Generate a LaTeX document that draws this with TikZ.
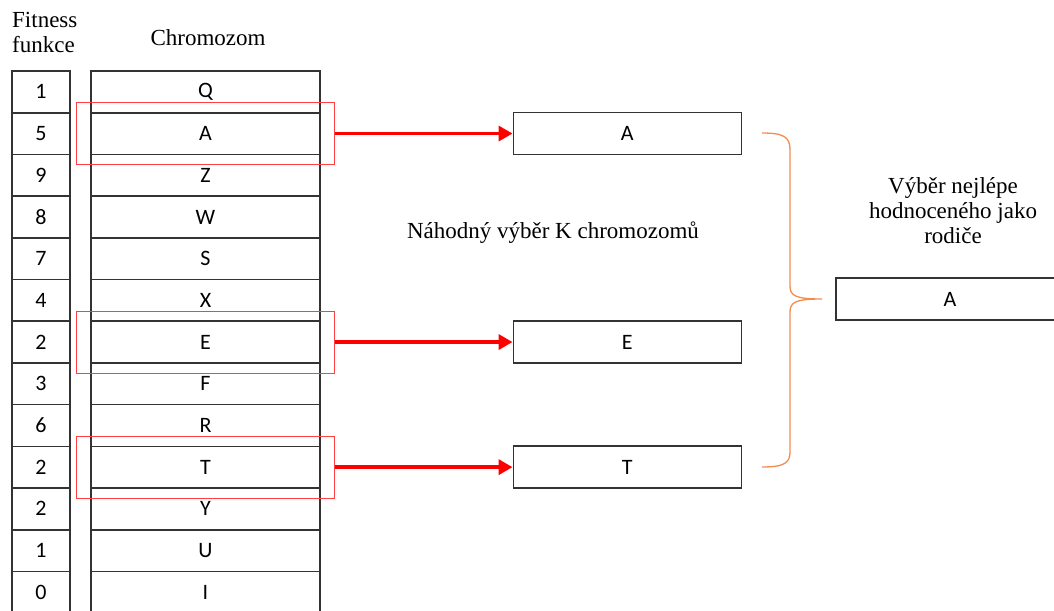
\documentclass[tikz,border=0pt]{standalone}
\usepackage{fontspec}
\setmainfont{Liberation Serif}
\newfontfamily\cellfont{Carlito}
\usetikzlibrary{arrows.meta,positioning}

\definecolor{braceorange}{RGB}{242,140,80}

\tikzset{
    cell/.style={draw=black!80, line width=1.6pt, inner sep=0pt,
        minimum height=41.7pt, font=\cellfont\fontsize{22}{22}\selectfont},
    fitcell/.style={cell, minimum width=58pt},
    chromcell/.style={cell, minimum width=229pt},
    selbox/.style={cell, minimum width=228pt, minimum height=42pt},
    pickbox/.style={draw=red!75, line width=1.1pt, inner sep=0pt,
        minimum width=258pt, minimum height=62pt},
    pickarrow/.style={red, line width=3.5pt, -{Triangle[length=14pt,width=15pt]}},
    heading/.style={font=\fontsize{23}{25}\selectfont, align=center, inner sep=0pt},
    selbrace/.style={draw=braceorange, line width=1.3pt}
}

\begin{document}
\begin{tikzpicture}[x=1pt,y=-1pt]
    \useasboundingbox (0,0) rectangle (1054,610);

    % column headings
    \node[heading, align=left, anchor=north west] (fithead) at (12,12) {Fitness\\funkce};
    \node[heading] (chromhead) at (208,38) {Chromozom};

    % population: fitness value and chromosome, one row each
    \foreach \fit/\gene [count=\i from 0] in {1/Q,5/A,9/Z,8/W,7/S,4/X,2/E,3/F,6/R,2/T,2/Y,1/U,0/I}{
        \node[fitcell] (f\i) at (41,91.85+41.7*\i) {\fit};
        \node[chromcell] (c\i) at (205.5,91.85+41.7*\i) {\gene};
    }

    % randomly picked rows go to the tournament
    \foreach \r/\gene in {1/A,6/E,9/T}{
        \node[pickbox] (p\r) at (c\r) {};
        \node[selbox, right=177.5pt of p\r] (s\r) {\gene};
        \draw[pickarrow] (p\r) -- (s\r);
    }
    \node[heading] (randtext) at (553,233) {Náhodný výběr K chromozomů};

    % the best one becomes the parent
    \node[selbox] (best) at (950,299) {A};
    \node[heading] (besttext) at (953,211) {Výběr nejlépe\\hodnoceného jako\\rodiče};

    \draw[selbrace] (762,133) .. controls (784,133) and (790,137) .. (790,150)
        -- (790,286) .. controls (790,296) and (796,299) .. (822,299)
        .. controls (796,299) and (790,302) .. (790,312)
        -- (790,452) .. controls (790,463) and (784,467) .. (762,467);
\end{tikzpicture}
\end{document}
